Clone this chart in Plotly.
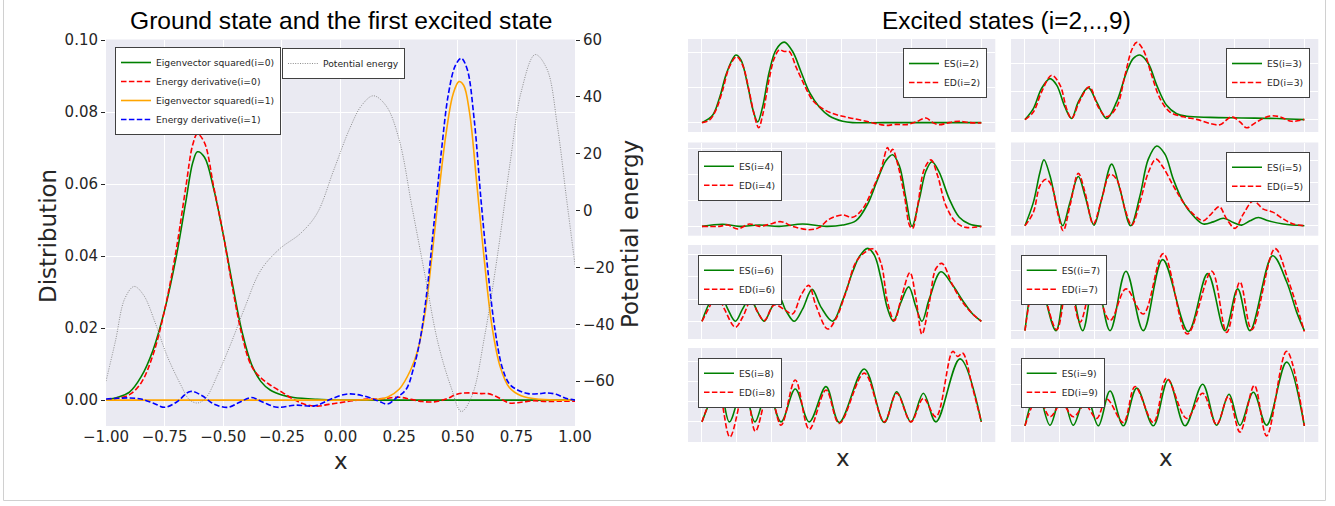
import plotly.graph_objects as go

# ---------------- Main panel data ----------------
X_TICKS = [-1.0, -0.75, -0.5, -0.25, 0.0, 0.25, 0.5, 0.75, 1.0]
X_TICKTEXT = ["\u22121.00", "\u22120.75", "\u22120.50", "\u22120.25", "0.00", "0.25", "0.50", "0.75", "1.00"]
Y_TICKS = [0.0, 0.02, 0.04, 0.06, 0.08, 0.10]
Y_TICKTEXT = ["0.00", "0.02", "0.04", "0.06", "0.08", "0.10"]
Y2_TICKS = [-60, -40, -20, 0, 20, 40, 60]
Y2_TICKTEXT = ["\u221260", "\u221240", "\u221220", "0", "20", "40", "60"]

ES0_X = [-1.0, -0.95, -0.9, -0.85, -0.8, -0.75, -0.7, -0.66, -0.63, -0.61, -0.58, -0.54, -0.5, -0.46,
         -0.42, -0.38, -0.34, -0.3, -0.25, -0.2, -0.1, 0.0, 0.5, 1.0]
ES0_Y = [0.0, 0.0008, 0.0022, 0.0065, 0.0138, 0.025, 0.040, 0.055, 0.066, 0.069, 0.0675, 0.0585, 0.046, 0.032,
         0.019, 0.010, 0.0052, 0.0028, 0.0014, 0.0007, 0.0002, 0.0, 0.0, 0.0]

ED0_X = [-1.0, -0.95, -0.9, -0.85, -0.8, -0.75, -0.7, -0.66, -0.63, -0.61, -0.58, -0.54, -0.5, -0.46, -0.42,
         -0.38, -0.34, -0.3, -0.25, -0.2, -0.15, -0.1, -0.05, 0.0, 0.05, 0.1, 0.18, 0.25, 0.3, 0.35, 0.4,
         0.45, 0.5, 0.55, 0.6, 0.63, 0.67, 0.72, 0.77, 0.82, 0.88, 0.94, 1.0]
ED0_Y = [0.0, 0.0005, 0.0015, 0.0048, 0.0125, 0.025, 0.042, 0.059, 0.071, 0.074, 0.0715, 0.059, 0.046, 0.031,
         0.018, 0.0095, 0.0062, 0.0042, 0.0022, 0.0002, -0.0012, -0.0017, -0.0012, -0.0007, -0.0002, 0.0002,
         0.0004, 0.0008, 0.0002, -0.0004, -0.0005, 0.0003, 0.0017, 0.002, 0.0018, 0.0018, 0.0008, -0.0008,
         -0.0006, -0.0002, -0.0004, -0.0003, -0.0003]

ES1_X = [-1.0, 0.0, 0.15, 0.2, 0.25, 0.3, 0.33, 0.36, 0.39, 0.42, 0.45, 0.48, 0.505, 0.525, 0.55, 0.58,
         0.61, 0.645, 0.68, 0.72, 0.77, 0.85, 1.0]
ES1_Y = [0.0, 0.0, 0.0002, 0.0008, 0.003, 0.0085, 0.014, 0.024, 0.040, 0.058, 0.074, 0.085, 0.0885, 0.0875,
         0.080, 0.061, 0.041, 0.021, 0.0095, 0.0035, 0.0012, 0.0002, 0.0]

ED1_X = [-1.0, -0.95, -0.9, -0.85, -0.8, -0.75, -0.7, -0.64, -0.59, -0.54, -0.48, -0.43, -0.38, -0.33, -0.27,
         -0.19, -0.11, -0.04, 0.03, 0.09, 0.16, 0.2, 0.24, 0.28, 0.31, 0.34, 0.37, 0.40, 0.43, 0.46, 0.49,
         0.515, 0.54, 0.57, 0.60, 0.63, 0.66, 0.69, 0.72, 0.75, 0.8, 0.85, 0.88, 0.92, 0.96, 1.0]
ED1_Y = [0.0003, 0.0005, 0.0006, 0.0003, -0.0008, -0.002, -0.0006, 0.0024, 0.0012, -0.0011, -0.002, -0.0006,
         0.0007, -0.0006, -0.002, -0.0014, -0.0016, 0.0003, 0.0017, 0.0013, -0.0002, -0.0011, 0.0007, 0.003,
         0.0085, 0.017, 0.031, 0.050, 0.069, 0.085, 0.093, 0.095, 0.092, 0.078, 0.055, 0.035, 0.019, 0.009,
         0.0045, 0.003, 0.0018, 0.0018, 0.0020, 0.0016, 0.0005, 0.0]

PE_X = [-1.0, -0.96, -0.92, -0.88, -0.84, -0.79, -0.74, -0.68, -0.645, -0.61, -0.575, -0.52, -0.465, -0.41,
        -0.34, -0.26, -0.17, -0.1, -0.03, 0.04, 0.09, 0.14, 0.195, 0.25, 0.305, 0.36, 0.415, 0.47, 0.515,
        0.56, 0.615, 0.67, 0.725, 0.77, 0.83, 0.88, 0.925, 0.963, 1.0]
PE_Y = [-60, -46, -31, -26.7, -29.7, -39.5, -51, -61.5, -66.5, -67.7, -66, -57, -46.3, -34.5,
        -21, -13.5, -8, -1, 14, 29, 37, 40.4, 36.8, 25, 1.2, -22.6, -46.3, -61.8, -70.7,
        -65.3, -44, -15.4, 17.8, 41.6, 54.9, 49.9, 29.7, 4.8, -19]

# ---------------- Excited states data (arbitrary units) ----------------
ES2_X = [-1.0, -0.924, -0.876, -0.828, -0.78, -0.757, -0.721, -0.673, -0.637, -0.601, -0.566, -0.518, -0.47,
         -0.411, -0.351, -0.291, -0.232, -0.16, -0.088, 0.007, 0.079, 0.3, 0.6, 1.0]
ES2_Y = [0, 0.21, 0.69, 1.37, 1.83, 1.94, 1.80, 1.08, 0.40, 0.02, 0.45, 1.46, 2.09, 2.31, 2.04, 1.46, 0.88,
         0.45, 0.19, 0.04, 0.0, 0, 0, 0]
ED2_X = [-1.0, -0.947, -0.9, -0.852, -0.804, -0.752, -0.709, -0.661, -0.625, -0.594, -0.566, -0.518, -0.482,
         -0.446, -0.411, -0.375, -0.327, -0.267, -0.208, -0.136, -0.064, 0.007, 0.079, 0.174, 0.246, 0.317,
         0.389, 0.461, 0.532, 0.604, 0.652, 0.699, 0.771, 0.842, 0.914, 1.0]
ED2_Y = [0, 0.07, 0.36, 0.93, 1.6, 1.89, 1.65, 0.88, 0.21, -0.15, 0.21, 1.27, 1.85, 2.09, 2.04, 2.04, 1.6,
         1.08, 0.64, 0.40, 0.26, 0.18, 0.12, 0.04, -0.03, -0.08, -0.05, -0.06, 0.02, 0.13, 0, -0.06, 0,
         0.04, 0, -0.01]

ES3_X = [-1.0, -0.94, -0.881, -0.821, -0.773, -0.714, -0.666, -0.618, -0.547, -0.487, -0.415, -0.344,
         -0.272, -0.224, -0.177, -0.117, -0.057, 0.014, 0.086, 0.158, 0.325, 0.563, 0.802, 1.0]
ES3_Y = [0, 0.39, 1.11, 1.46, 1.23, 0.45, 0.04, 0.63, 1.14, 0.63, 0.04, 0.63, 1.70, 2.18, 2.30, 2.0, 1.23,
         0.51, 0.21, 0.12, 0.08, 0.06, 0.04, 0]
ED3_X = [-1.0, -0.94, -0.881, -0.809, -0.749, -0.702, -0.666, -0.606, -0.539, -0.475, -0.415, -0.344,
         -0.284, -0.236, -0.2, -0.153, -0.093, -0.033, 0.038, 0.134, 0.229, 0.325, 0.396, 0.48, 0.539,
         0.587, 0.659, 0.754, 0.826, 0.909, 1.0]
ED3_Y = [0, 0.27, 0.99, 1.58, 1.23, 0.39, 0.04, 0.69, 1.17, 0.45, 0.1, 0.45, 1.58, 2.48, 2.75, 2.48, 1.58,
         0.75, 0.27, 0.10, 0.01, -0.14, -0.18, 0.10, -0.08, -0.29, -0.08, 0.13, 0.10, -0.06, 0.01]

ES4_X = [-1.0, -0.852, -0.733, -0.589, -0.446, -0.279, -0.112, 0.007, 0.103, 0.186, 0.258, 0.317, 0.365,
         0.413, 0.461, 0.504, 0.556, 0.604, 0.647, 0.699, 0.771, 0.842, 0.914, 1.0]
ES4_Y = [0, 0.08, 0, 0.05, 0, 0.09, 0, 0.05, 0.22, 0.86, 1.82, 2.53, 2.76, 2.33, 1.05, 0, 1.05, 2.14,
         2.49, 2.08, 1.05, 0.35, 0.09, 0]
ED4_X = [-1.0, -0.876, -0.816, -0.745, -0.661, -0.589, -0.518, -0.434, -0.351, -0.232, -0.16, -0.088,
         0.007, 0.079, 0.15, 0.222, 0.282, 0.329, 0.346, 0.365, 0.401, 0.449, 0.489, 0.508, 0.544, 0.592,
         0.64, 0.687, 0.747, 0.819, 0.89, 1.0]
ED4_Y = [0, 0, 0.05, -0.1, 0.09, 0, 0.08, 0.18, 0, -0.13, -0.04, 0.28, 0.44, 0.35, 0.67, 1.44, 2.21, 3.04,
         2.85, 2.97, 2.40, 1.18, 0, -0.08, 0.79, 2.21, 2.56, 1.95, 0.79, 0.15, -0.04, 0]

ES5_X = [-1.0, -0.94, -0.893, -0.864, -0.821, -0.773, -0.73, -0.678, -0.618, -0.57, -0.506, -0.451, -0.379,
         -0.32, -0.243, -0.177, -0.117, -0.057, 0.002, 0.062, 0.134, 0.205, 0.277, 0.348, 0.42, 0.492,
         0.551, 0.611, 0.671, 0.742, 0.85, 1.0]
ES5_Y = [0, 1.08, 2.46, 3.05, 2.31, 0.92, 0, 1.08, 2.28, 1.38, 0.03, 1.23, 2.85, 1.69, 0, 1.38, 3.08, 3.69,
         3.31, 2.15, 1.08, 0.46, 0.08, 0.18, 0.35, 0.15, 0.03, 0.23, 0.38, 0.23, 0.08, 0]
ED5_X = [-1.0, -0.94, -0.893, -0.85, -0.809, -0.761, -0.726, -0.678, -0.618, -0.57, -0.511, -0.451, -0.391,
         -0.344, -0.284, -0.236, -0.177, -0.117, -0.062, -0.01, 0.062, 0.134, 0.205, 0.277, 0.325, 0.391,
         0.444, 0.504, 0.563, 0.635, 0.706, 0.778, 0.85, 0.921, 1.0]
ED5_Y = [0, 0.62, 1.85, 2.15, 1.85, 0.46, -0.23, 0.92, 2.42, 1.54, 0.08, 1.23, 2.38, 2.15, 0.77, 0.03, 1.08,
         2.46, 3.08, 2.69, 1.85, 1.08, 0.54, 0.23, 0.49, 0.88, 0.31, -0.12, 0.54, 1.15, 0.77, 0.62, 0.31,
         0.08, 0]

ES6_X = [-1.0, -0.936, -0.876, -0.816, -0.761, -0.709, -0.656, -0.601, -0.554, -0.506, -0.451, -0.399,
         -0.339, -0.279, -0.212, -0.148, -0.064, 0.007, 0.079, 0.126, 0.186, 0.234, 0.282, 0.329, 0.37,
         0.425, 0.48, 0.532, 0.575, 0.628, 0.711, 0.795, 0.866, 0.938, 1.0]
ES6_Y = [0, 0.94, 1.35, 0.56, 0, 0.56, 1.05, 0.41, 0, 0.56, 1.14, 0.48, 0, 0.56, 1.44, 0.64, 0, 0.94, 2.23,
         2.91, 3.29, 2.98, 1.92, 0.56, 0, 0.86, 1.55, 0.64, 0, 1.02, 2.23, 1.62, 0.94, 0.33, 0]
ED6_X = [-1.0, -0.947, -0.893, -0.84, -0.761, -0.709, -0.649, -0.601, -0.554, -0.482, -0.399, -0.351,
         -0.291, -0.236, -0.184, -0.1, -0.041, 0.031, 0.103, 0.174, 0.227, 0.282, 0.329, 0.377, 0.432,
         0.489, 0.532, 0.575, 0.628, 0.675, 0.718, 0.795, 0.866, 0.938, 1.0]
ED6_Y = [0, 0.64, 1.24, 0.56, -0.27, 0.18, 0.94, 0.41, 0.03, 0.74, 0.48, 0.33, 1.17, 1.62, 0.71, -0.35,
         0.11, 1.32, 2.68, 3.14, 3.26, 2.61, 0.86, 0.03, 1.17, 2.20, 1.02, -0.58, 0.86, 2.38, 2.61, 1.62,
         0.86, 0.33, 0]

ES7_X = [-1.0, -0.916, -0.778, -0.697, -0.587, -0.499, -0.391, -0.277, -0.153, -0.014, 0.169, 0.308, 0.432,
         0.523, 0.611, 0.773, 0.874, 0.945, 1.0]
ES7_Y = [0, 1.9, 0, 2.0, 0, 1.9, 0, 1.99, 0, 2.38, -0.03, 1.91, 0, 1.40, 0, 2.51, 1.63, 0.62, 0]
ED7_X = [-1.0, -0.912, -0.773, -0.69, -0.606, -0.511, -0.391, -0.277, -0.153, -0.01, 0.162, 0.337, 0.444,
         0.539, 0.623, 0.79, 0.885, 1.0]
ED7_Y = [0, 1.8, 0.03, 1.8, 0.28, 1.6, 0.34, 1.40, 0.56, 2.58, -0.11, 1.99, -0.06, 1.63, 0.03, 2.75, 1.69,
         -0.03]

ES8_X = [-1.0, -0.876, -0.804, -0.704, -0.621, -0.53, -0.434, -0.332, -0.232, -0.112, -0.017, 0.162, 0.305,
         0.394, 0.496, 0.585, 0.675, 0.847, 1.0]
ES8_Y = [0, 1.7, 0, 1.75, 0, 1.6, 0, 1.63, 0, 1.75, -0.03, 2.63, -0.03, 1.5, 0, 1.42, 0, 3.13, 0]
ED8_X = [-1.0, -0.888, -0.8, -0.69, -0.618, -0.518, -0.434, -0.332, -0.232, -0.112, -0.017, 0.162, 0.305,
         0.394, 0.496, 0.585, 0.675, 0.795, 0.831, 0.866, 0.938, 1.0]
ED8_Y = [0, 1.6, -0.75, 1.8, -0.47, 1.6, -0.17, 2.08, -0.37, 1.58, -0.08, 2.42, 0, 1.42, 0, 1.17, 0.25,
         3.5, 3.25, 3.42, 1.67, 0]

ES9_X = [-1.0, -0.912, -0.821, -0.737, -0.654, -0.563, -0.475, -0.391, -0.296, -0.2, -0.081, 0.026, 0.146,
         0.272, 0.372, 0.461, 0.539, 0.635, 0.73, 0.873, 1.0]
ES9_Y = [0, 1.7, 0.03, 1.6, 0.03, 1.55, 0, 1.70, 0, 1.84, 0, 2.25, 0, 2.03, 0.03, 1.54, 0.03, 1.64, 0.03,
         3.11, 0]
ED9_X = [-1.0, -0.905, -0.821, -0.737, -0.654, -0.57, -0.487, -0.415, -0.296, -0.212, -0.081, 0.014, 0.158,
         0.272, 0.372, 0.456, 0.539, 0.642, 0.73, 0.873, 1.0]
ED9_Y = [0, 1.38, 0.44, 1.1, 0.44, 1.02, 0.36, 1.31, 0.16, 1.92, 0.16, 2.33, 0.36, 1.59, 0.07, 1.43, -0.3,
         1.97, -0.49, 3.64, 0]

ES_LABELS = ["ES(i=2)", "ES(i=3)", "ES(i=4)", "ES(i=5)", "ES(i=6)", "ES((i=7)", "ES(i=8)", "ES(i=9)"]
ED_LABELS = ["ED(i=2)", "ED(i=3)", "ED(i=4)", "ED(i=5)", "ED(i=6)", "ED(i=7)", "ED(i=8)", "ED(i=9)"]
ES_SERIES = [(ES2_X, ES2_Y), (ES3_X, ES3_Y), (ES4_X, ES4_Y), (ES5_X, ES5_Y),
             (ES6_X, ES6_Y), (ES7_X, ES7_Y), (ES8_X, ES8_Y), (ES9_X, ES9_Y)]
ED_SERIES = [(ED2_X, ED2_Y), (ED3_X, ED3_Y), (ED4_X, ED4_Y), (ED5_X, ED5_Y),
             (ED6_X, ED6_Y), (ED7_X, ED7_Y), (ED8_X, ED8_Y), (ED9_X, ED9_Y)]
PANEL_YRANGE = [[-0.27, 2.40], [-0.44, 2.87], [-0.36, 3.23], [-0.46, 3.85],
                [-0.80, 3.44], [-0.28, 2.87], [-1.0, 3.67], [-0.79, 3.80]]

# ---------------- Figure ----------------
W, H = 1335, 506
def px(x):
    return x / W
def py(y):
    return 1 - y / H

BG = "#EAEAF2"
TXT = "#262626"
DASH = "5.5px,2.4px"
LEG_FONT = 9.2
fig = go.Figure()

fig.add_trace(go.Scatter(x=ES0_X, y=ES0_Y, mode="lines", name="Eigenvector squared(i=0)",
                         line=dict(color="green", width=1.6, shape="spline"), legend="legend"))
fig.add_trace(go.Scatter(x=ED0_X, y=ED0_Y, mode="lines", name="Energy derivative(i=0)",
                         line=dict(color="red", width=1.6, dash=DASH, shape="spline"), legend="legend"))
fig.add_trace(go.Scatter(x=ES1_X, y=ES1_Y, mode="lines", name="Eigenvector squared(i=1)",
                         line=dict(color="orange", width=1.6, shape="spline"), legend="legend"))
fig.add_trace(go.Scatter(x=ED1_X, y=ED1_Y, mode="lines", name="Energy derivative(i=1)",
                         line=dict(color="blue", width=1.6, dash=DASH, shape="spline"), legend="legend"))
fig.add_trace(go.Scatter(x=PE_X, y=PE_Y, mode="lines", name="Potential energy", yaxis="y2",
                         line=dict(color="gray", width=0.9, dash="1px,1.4px", shape="spline"),
                         legend="legend2"))

col_dom = [[px(688.0), px(995.3)], [px(1011.0), px(1318.3)]]
row_dom = [[py(132), py(39)], [py(235.7), py(142.5)], [py(339), py(245)], [py(442), py(348)]]
legend_pos = [(987, 48, "right"), (1310, 48, "right"), (698, 150.7, "left"), (1310, 151.7, "right"),
              (698, 254.7, "left"), (1020.7, 254.7, "left"), (698, 357.7, "left"), (1020.7, 357.7, "left")]

layout = dict(
    width=W, height=H, margin=dict(l=0, r=0, t=0, b=0, pad=0, autoexpand=False),
    paper_bgcolor="white", plot_bgcolor=BG,
    font=dict(family="DejaVu Sans", color=TXT),
    xaxis=dict(domain=[px(106), px(575)], range=[-1, 1], tickvals=X_TICKS, ticktext=X_TICKTEXT,
               gridcolor="white", gridwidth=1, zeroline=False, showline=False, automargin=False,
               ticks="", ticklabelstandoff=0, tickfont=dict(size=15, color=TXT), anchor="y"),
    yaxis=dict(domain=[py(426), py(39.5)], range=[-0.0072, 0.1002], tickvals=Y_TICKS, ticktext=Y_TICKTEXT,
               gridcolor="white", gridwidth=1, zeroline=False, showline=False, automargin=False,
               ticks="outside", ticklen=4, tickcolor=TXT, tickfont=dict(size=15, color=TXT), anchor="x"),
    yaxis2=dict(overlaying="y", side="right", range=[-75.8, 60.2], tickvals=Y2_TICKS, ticktext=Y2_TICKTEXT,
                showgrid=False, zeroline=False, showline=False, anchor="x", automargin=False,
                ticks="outside", ticklen=4, tickcolor=TXT, tickfont=dict(size=15, color=TXT)),
    legend=dict(x=px(115), y=py(47), xanchor="left", yanchor="top", bgcolor="white",
                bordercolor="#404040", borderwidth=1, font=dict(size=LEG_FONT, color=TXT),
                tracegroupgap=0),
    legend2=dict(x=px(282), y=py(48), xanchor="left", yanchor="top", bgcolor="white",
                 bordercolor="#404040", borderwidth=1, font=dict(size=LEG_FONT, color=TXT)),
    showlegend=True,
)

for k in range(8):
    n = k + 3
    r, c = divmod(k, 2)
    xs, ys = ES_SERIES[k]
    xd, yd = ED_SERIES[k]
    lg = "legend%d" % n
    fig.add_trace(go.Scatter(x=xs, y=ys, mode="lines", name=ES_LABELS[k], xaxis="x%d" % n, yaxis="y%d" % n,
                             line=dict(color="green", width=1.6, shape="spline"), legend=lg))
    fig.add_trace(go.Scatter(x=xd, y=yd, mode="lines", name=ED_LABELS[k], xaxis="x%d" % n, yaxis="y%d" % n,
                             line=dict(color="red", width=1.6, dash=DASH, shape="spline"), legend=lg))
    layout["xaxis%d" % n] = dict(domain=col_dom[c], range=[-1.1, 1.1], tickvals=X_TICKS, showticklabels=False,
                                 gridcolor="white", gridwidth=1, zeroline=False, showline=False,
                                 automargin=False, anchor="y%d" % n)
    layout["yaxis%d" % n] = dict(domain=row_dom[r], range=PANEL_YRANGE[k], tick0=0, dtick=1,
                                 showticklabels=False, gridcolor="white", gridwidth=1, zeroline=False,
                                 showline=False, automargin=False, anchor="x%d" % n)
    lx, ly, anc = legend_pos[k]
    layout[lg] = dict(x=px(lx), y=py(ly), xanchor=anc, yanchor="top", bgcolor="white",
                      bordercolor="#404040", borderwidth=1, font=dict(size=LEG_FONT, color=TXT))

fig.update_layout(**layout)

ann = [
    dict(text="Ground state and the first excited state", x=px(340.5), y=py(21),
         font=dict(family="Liberation Sans", size=24.6, color="black")),
    dict(text="Excited states (i=2,..,9)", x=px(1006), y=py(21),
         font=dict(family="Liberation Sans", size=24.4, color="black")),
    dict(text="Distribution", x=px(48), y=py(236), textangle=-90,
         font=dict(family="DejaVu Sans", size=23, color=TXT)),
    dict(text="Potential energy", x=px(630), y=py(234), textangle=-90,
         font=dict(family="DejaVu Sans", size=23, color=TXT)),
    dict(text="x", x=px(341), y=py(461), font=dict(family="DejaVu Sans", size=23, color=TXT)),
    dict(text="x", x=px(843), y=py(458), font=dict(family="DejaVu Sans", size=23, color=TXT)),
    dict(text="x", x=px(1166), y=py(458), font=dict(family="DejaVu Sans", size=23, color=TXT)),
]
for a in ann:
    a.update(xref="paper", yref="paper", xanchor="center", yanchor="middle", showarrow=False)
fig.update_layout(annotations=ann)

fig.add_shape(type="rect", xref="paper", yref="paper", x0=px(3.5), x1=px(1325.5), y0=py(500.5), y1=1.05,
              line=dict(color="#d0d0d0", width=1), fillcolor="rgba(0,0,0,0)", layer="below")

fig.write_html("out.html", config={"displayModeBar": False},
               post_script="document.body.style.margin='0px';document.body.style.overflow='hidden';")
